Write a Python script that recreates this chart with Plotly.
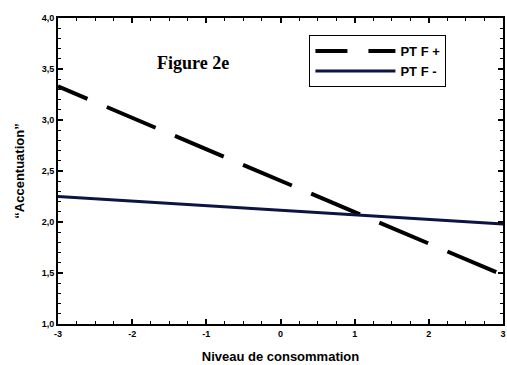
import plotly.graph_objects as go

# Data
consommation = [-3, 3]
pt_f_plus = [3.33, 1.48]
pt_f_minus = [2.25, 1.98]

x_ticks = [-3, -2, -1, 0, 1, 2, 3]
x_ticklabels = ["-3", "-2", "-1", "0", "1", "2", "3"]
y_ticks = [1.0, 1.5, 2.0, 2.5, 3.0, 3.5, 4.0]
y_ticklabels = ["1,0", "1,5", "2,0", "2,5", "3,0", "3,5", "4,0"]

fig = go.Figure()
fig.add_trace(go.Scatter(
    x=consommation, y=pt_f_plus, mode="lines", name="PT F +",
    line=dict(color="black", width=4,
              dash="32px,21px,53px,21px,53px,21px,53px,21px,53px,21px,53px,21px,53px,21px,53px,21px"),
))
fig.add_trace(go.Scatter(
    x=consommation, y=pt_f_minus, mode="lines", name="PT F -",
    line=dict(color="#0b1442", width=3),
))

tick_font = dict(family="Liberation Sans Narrow, Liberation Sans, Arial", size=9, color="black", weight="bold")
title_font = dict(family="Liberation Sans, Arial", size=13, color="black", weight="bold")

fig.update_layout(
    width=507, height=365,
    margin=dict(l=58, r=4, t=18, b=41, autoexpand=False),
    paper_bgcolor="white", plot_bgcolor="white",
    showlegend=True,
    legend=dict(
        x=0.565, y=0.944, xanchor="left", yanchor="top",
        bordercolor="black", borderwidth=1, bgcolor="white",
        font=dict(family="Liberation Sans, Arial", size=13, color="black", weight="bold"),
        itemwidth=80, tracegroupgap=0,
    ),
    annotations=[dict(
        text="Figure 2e", xref="paper", yref="paper", x=0.304, y=0.853,
        xanchor="center", yanchor="middle", showarrow=False,
        font=dict(family="Liberation Serif, Times New Roman", size=18, color="black", weight="bold"),
    )],
)
fig.update_xaxes(
    range=[-3, 3], tickvals=x_ticks, ticktext=x_ticklabels, automargin=False,
    ticklabeloverflow="allow",
    showline=True, linecolor="black", linewidth=2, mirror="ticks",
    ticks="inside", ticklen=5, tickwidth=1.5, tickcolor="black",
    minor=dict(ticks="inside", dtick=0.25, ticklen=3, tickcolor="black", tickwidth=1),
    showgrid=False, zeroline=False, tickfont=tick_font,
    title=dict(text="Niveau de consommation", font=title_font, standoff=14),
)
fig.update_yaxes(
    range=[1, 4], tickvals=y_ticks, ticktext=y_ticklabels, automargin=False,
    showline=True, linecolor="black", linewidth=2, mirror="ticks",
    ticks="inside", ticklen=5, tickwidth=1.5, tickcolor="black",
    minor=dict(ticks="inside", dtick=0.1, ticklen=3, tickcolor="black", tickwidth=1),
    showgrid=False, zeroline=False, tickfont=tick_font,
    title=dict(text="\u201cAccentuation\u201d", font=title_font, standoff=14),
)

fig.write_html(
    "out.html",
    config={"displayModeBar": False},
    post_script="document.body.style.margin='0';document.body.style.overflow='hidden';",
)
